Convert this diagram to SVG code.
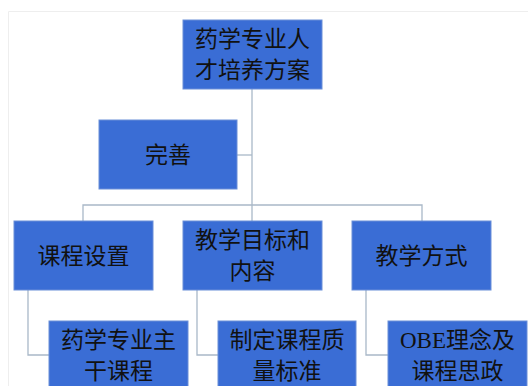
<svg xmlns="http://www.w3.org/2000/svg" width="528" height="386" viewBox="0 0 528 386">
<style>
.box{fill:#3a6dd5;stroke:#6a8fd8;stroke-width:1}
.t{font-family:"Noto Sans CJK SC","Liberation Serif",serif;font-size:23px;fill:#111;text-anchor:middle}
.c{fill:none;stroke:#a9b8c8;stroke-width:1.3}
</style>
<rect x="0" y="0" width="528" height="386" fill="#fff"/>
<path d="M8.5 386 V11.5 H528" fill="none" stroke="#eeeeee" stroke-width="1"/>
<g id="connectors">
<path class="c" d="M252 89 V205"/>
<path class="c" d="M237 155 H252"/>
<path class="c" d="M83 221 V205 H422 V221"/>
<path class="c" d="M252 205 V221"/>
<path class="c" d="M28 290 V355 H49"/>
<path class="c" d="M197 290 V355 H218"/>
<path class="c" d="M366 290 V355 H388"/>
</g>
<g id="root">
<rect class="box" x="183" y="20" width="139" height="69"/>
<text class="t" x="252.5" y="47">药学专业人</text>
<text class="t" x="252.5" y="78">才培养方案</text>
</g>
<g id="wanshan">
<rect class="box" x="99" y="120" width="138" height="69"/>
<text class="t" x="168" y="163">完善</text>
</g>
<g id="kecheng">
<rect class="box" x="14" y="221" width="139" height="69"/>
<text class="t" x="83.5" y="264">课程设置</text>
</g>
<g id="mubiao">
<rect class="box" x="183" y="221" width="139" height="69"/>
<text class="t" x="252.5" y="248">教学目标和</text>
<text class="t" x="252.5" y="279">内容</text>
</g>
<g id="fangshi">
<rect class="box" x="352" y="221" width="139" height="69"/>
<text class="t" x="421.5" y="264">教学方式</text>
</g>
<g id="zhugan">
<rect class="box" x="49" y="321" width="139" height="70"/>
<text class="t" x="118.5" y="348">药学专业主</text>
<text class="t" x="118.5" y="379">干课程</text>
</g>
<g id="biaozhun">
<rect class="box" x="218" y="321" width="138" height="70"/>
<text class="t" x="287" y="348">制定课程质</text>
<text class="t" x="287" y="379">量标准</text>
</g>
<g id="obe">
<rect class="box" x="388" y="321" width="139" height="70"/>
<text class="t" x="457.5" y="348"><tspan font-family="Liberation Serif">OBE</tspan>理念及</text>
<text class="t" x="457.5" y="379">课程思政</text>
</g>
</svg>
